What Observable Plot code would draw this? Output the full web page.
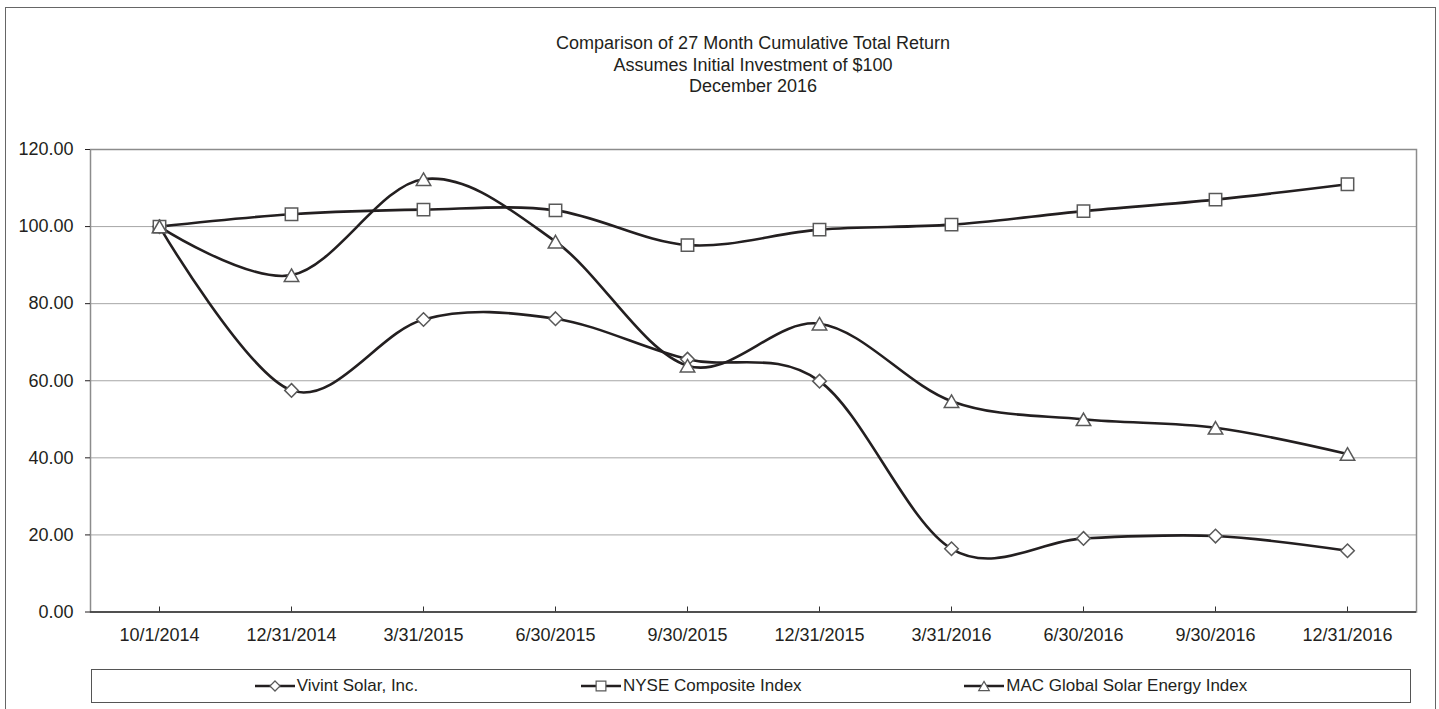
<!DOCTYPE html>
<html><head><meta charset="utf-8">
<script src="https://cdn.jsdelivr.net/npm/d3@7"></script>
<script src="https://cdn.jsdelivr.net/npm/@observablehq/plot@0.6"></script>
<style>
html,body{margin:0;padding:0;background:#fff;}
body{width:1439px;height:709px;overflow:hidden;position:relative;font-family:"Liberation Sans",Arial,sans-serif;color:#231f20;}
#title{height:120px;box-sizing:border-box;padding-top:33px;padding-left:90px;padding-right:23px;text-align:center;font-size:18px;line-height:21.5px;}
#chart svg{display:block;}
#legend{position:absolute;left:91px;top:669px;width:1320px;height:34px;box-sizing:border-box;border:1px solid #555;display:flex;justify-content:space-evenly;align-items:center;font-size:17px;}
#legend .item{display:flex;align-items:center;gap:2px;white-space:nowrap;}
#border{position:absolute;left:5px;top:7px;width:1431px;height:740px;box-sizing:border-box;border:1.5px solid #666;pointer-events:none;}
</style></head><body>
<div id="title"></div>
<div id="chart"></div>
<div id="legend"></div>
<div id="border"></div>
<script>
const titleLines = ["Comparison of 27 Month Cumulative Total Return","Assumes Initial Investment of $100","December 2016"];
const dates = ["10/1/2014","12/31/2014","3/31/2015","6/30/2015","9/30/2015","12/31/2015","3/31/2016","6/30/2016","9/30/2016","12/31/2016"];
const seriesNames = ["Vivint Solar, Inc.","NYSE Composite Index","MAC Global Solar Energy Index"];
const vivint = [100, 57.5, 75.9, 76.1, 65.6, 59.9, 16.4, 19.1, 19.7, 15.9];
const nyse = [100, 103.2, 104.4, 104.2, 95.2, 99.2, 100.5, 104.0, 107.0, 111.0];
const mac = [100, 87.4, 112.3, 96.1, 63.9, 74.8, 54.7, 50.0, 47.8, 41.0];
const yTicks = [0, 20, 40, 60, 80, 100, 120];

document.getElementById("title").innerHTML = titleLines.map(t => `<div>${t.replace(/\$/g,"&#36;")}</div>`).join("");

const seriesValues = [vivint, nyse, mac];
const symbols = ["diamond2", "square", "triangle2"];
const radii = [6.1, 7.0, 6.9];
const dys = [0, 0, 2.1];
const rows = [];
seriesNames.forEach((s, i) => seriesValues[i].forEach((v, j) => rows.push({series: s, date: dates[j], value: v})));

const lineColor = "#231f20";
const markerStroke = "#595959";

const marks = [
  Plot.gridY(yTicks.filter(t => t > 0 && t < 120), {stroke: "#a6a6a6", strokeOpacity: 1, strokeWidth: 1}),
  Plot.frame({stroke: "#8c8c8c", strokeWidth: 1.5}),
  Plot.ruleY([0], {stroke: "#333", strokeWidth: 1.5}),
  Plot.axisY({ticks: yTicks, tickSize: 5, tickPadding: 12, tickFormat: d3.format(".2f"), line: true, label: null, fontSize: 18}),
  Plot.axisX({tickSize: 0, tickPadding: 16.5, label: null, fontSize: 18}),
  Plot.tickX(dates, {x: d => d, stroke: "#333", strokeWidth: 1, insetTop: 457.5}),
  Plot.line(rows, {x: "date", y: "value", z: "series", curve: "cardinal", stroke: lineColor, strokeWidth: 2.6})
];
seriesNames.forEach((s, i) => {
  marks.push(Plot.dot(rows.filter(d => d.series === s), {
    x: "date", y: "value", symbol: symbols[i], r: radii[i], dy: dys[i],
    fill: "white", stroke: markerStroke, strokeWidth: 1.5
  }));
});

const chart = Plot.plot({
  width: 1439, height: 540,
  marginTop: 29, marginBottom: 48.5, marginLeft: 90, marginRight: 23,
  style: {fontFamily: '"Liberation Sans", Arial, sans-serif', fontSize: "18px", color: "#231f20", background: "transparent", overflow: "visible"},
  x: {type: "point", domain: dates, padding: 0.5},
  y: {domain: [0, 120]},
  marks
});
document.getElementById("chart").appendChild(chart);

// legend
const legend = d3.select("#legend");
const symMap = {diamond2: d3.symbolDiamond2, square: d3.symbolSquare, triangle2: d3.symbolTriangle2};
const legendSizes = [65, 95, 80];
const legendDy = [0, 0, 1.5];
seriesNames.forEach((s, i) => {
  const item = legend.append("div").attr("class", "item");
  const svg = item.append("svg").attr("width", 40).attr("height", 16);
  svg.append("line").attr("x1", 0).attr("x2", 40).attr("y1", 8).attr("y2", 8).attr("stroke", lineColor).attr("stroke-width", 2.6);
  svg.append("path").attr("d", d3.symbol(symMap[symbols[i]], legendSizes[i])())
    .attr("transform", `translate(20,${8 + legendDy[i]})`).attr("fill", "white").attr("stroke", markerStroke).attr("stroke-width", 1.2);
  item.append("span").text(s);
});
</script></body></html>
